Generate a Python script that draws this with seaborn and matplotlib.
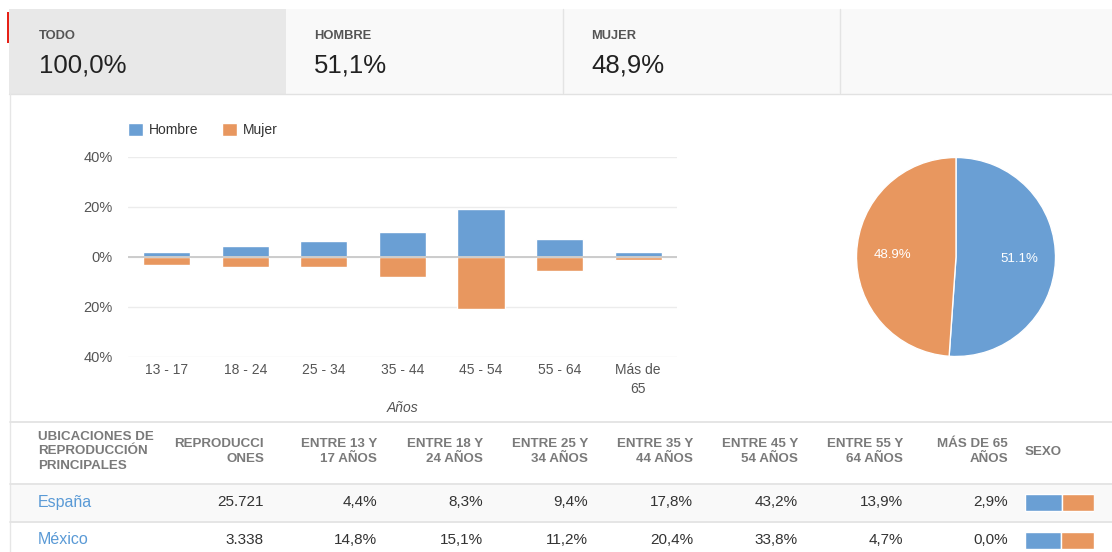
import matplotlib
matplotlib.use("Agg")
import matplotlib.pyplot as plt
import numpy as np
import pandas as pd
import seaborn as sns
from matplotlib.patches import Rectangle
from matplotlib.ticker import FuncFormatter

# ---------------- data ----------------
age_groups = ["13 - 17", "18 - 24", "25 - 34", "35 - 44", "45 - 54", "55 - 64", "Más de\n65"]
hombre_pct = [2.0, 4.5, 6.3, 10.1, 19.1, 7.3, 2.0]
mujer_pct = [3.2, 3.9, 3.9, 8.0, 20.9, 5.7, 1.2]
sex_labels = ["Hombre", "Mujer"]
sex_share = [51.1, 48.9]
y_ticks = [-40, -20, 0, 20, 40]

tab_labels = ["TODO", "HOMBRE", "MUJER"]
tab_values = ["100,0%", "51,1%", "48,9%"]

table_first_header = "UBICACIONES DE\nREPRODUCCIÓN\nPRINCIPALES"
table_headers = ["REPRODUCCI\nONES", "ENTRE 13 Y\n17 AÑOS", "ENTRE 18 Y\n24 AÑOS",
                 "ENTRE 25 Y\n34 AÑOS", "ENTRE 35 Y\n44 AÑOS", "ENTRE 45 Y\n54 AÑOS",
                 "ENTRE 55 Y\n64 AÑOS", "MÁS DE 65\nAÑOS"]
sex_header = "SEXO"
countries = ["España", "México"]
reproducciones = ["25.721", "3.338"]
espana_ages = ["4,4%", "8,3%", "9,4%", "17,8%", "43,2%", "13,9%", "2,9%"]
mexico_ages = ["14,8%", "15,1%", "11,2%", "20,4%", "33,8%", "4,7%", "0,0%"]
country_male_share = [53.0, 51.5]

# ---------------- style ----------------
sns.set_style("white")
plt.rcParams["font.family"] = ["Liberation Sans", "DejaVu Sans"]

BLUE = "#6a9fd4"
ORANGE = "#e8975f"
W, H = 1112, 552

fig = plt.figure(figsize=(W / 100, H / 100), dpi=100)
fig.patch.set_facecolor("white")


def px_axes(x0, y0, x1, y1, z=2):
    a = fig.add_axes([x0 / W, 1 - y1 / H, (x1 - x0) / W, (y1 - y0) / H])
    a.set_zorder(z)
    return a


# background / layout axes in pixel coordinates
bg = fig.add_axes([0, 0, 1, 1])
bg.set_xlim(0, W)
bg.set_ylim(H, 0)
bg.axis("off")
bg.set_zorder(0)

# tabs
bg.add_patch(Rectangle((286, 9), W - 286, 84.5, facecolor="#f9f9f9", edgecolor="none"))
bg.add_patch(Rectangle((9, 9), 277, 84.5, facecolor="#e8e8e8", edgecolor="none"))
bg.add_patch(Rectangle((7, 12), 2, 31, facecolor="#e62117", edgecolor="none"))
for xs in [563, 840]:
    bg.plot([xs, xs], [9, 93], color="#e4e4e4", lw=1)
bg.plot([9, W], [93.5, 93.5], color="#e2e2e2", lw=1)
bg.plot([9.5, 9.5], [93, H], color="#e6e6e6", lw=1)
tab_x = [39, 314, 591]
for tx, lab, val in zip(tab_x, tab_labels, tab_values):
    bg.text(tx, 36, lab, fontsize=9.3, fontweight="bold", color="#555555", va="center", ha="left")
    bg.text(tx, 65, val, fontsize=18.5, color="#222222", va="center", ha="left")

# table
bg.add_patch(Rectangle((10, 483.5), W - 10, 38, facecolor="#f9f9f9", edgecolor="none"))
for ys in [421.5, 483.5, 521.5]:
    bg.plot([10, W], [ys, ys], color="#e3e3e3", lw=1.3)
hdr_kw = dict(fontsize=9.6, fontweight="bold", color="#7a7a7a", va="center", linespacing=1.25)
bg.text(38, 451.5, table_first_header, ha="left", **hdr_kw)
col_right = [264, 377, 483, 588, 693, 798, 903, 1008]
for xr, h in zip(col_right, table_headers):
    bg.text(xr, 451.5, h, ha="right", multialignment="right", **hdr_kw)
bg.text(1025, 452, sex_header, ha="left", **hdr_kw)

rows = [[reproducciones[0]] + espana_ages, [reproducciones[1]] + mexico_ages]
row_y = [502, 540]
for ry, name, vals in zip(row_y, countries, rows):
    bg.text(38, ry, name, fontsize=11.5, color="#5a9ad6", va="center", ha="left")
    for xr, v in zip(col_right, vals):
        bg.text(xr, ry, v, fontsize=11, color="#333333", va="center", ha="right")

# sex share bars in the table
axs = px_axes(1025, 483.5, 1094, 559.5, z=3)
rows_idx = np.arange(len(countries))
male = np.array(country_male_share)
axs.barh(rows_idx, male, color=BLUE, height=17 / 38)
axs.barh(rows_idx, 100 - male, left=male, color=ORANGE, height=17 / 38)
axs.set_xlim(0, 100)
axs.set_ylim(1.5, -0.5)
axs.axis("off")

# ---------------- bar chart ----------------
df = pd.DataFrame({
    "Edad": age_groups * 2,
    "Porcentaje": hombre_pct + [-v for v in mujer_pct],
    "Sexo": [sex_labels[0]] * len(age_groups) + [sex_labels[1]] * len(age_groups),
})
ax = px_axes(127.5, 157, 677.5, 357, z=2)
ax.patch.set_alpha(0)
sns.barplot(data=df, x="Edad", y="Porcentaje", hue="Sexo", palette=[BLUE, ORANGE],
            dodge=False, width=0.6, saturation=1, errorbar=None, ax=ax, zorder=2)
ax.set_xlim(-0.5, len(age_groups) - 0.5)
ax.set_ylim(-40, 40)
ax.set_yticks(y_ticks)
ax.yaxis.set_major_formatter(FuncFormatter(lambda v, p: f"{abs(v):.0f}%"))
ax.grid(axis="y", color="#ececec", lw=1)
ax.grid(axis="x", visible=False)
ax.set_axisbelow(True)
ax.axhline(0, color="#cccccc", lw=1.4, zorder=4)
for s in ax.spines.values():
    s.set_visible(False)
ax.tick_params(axis="y", length=0, pad=10.5, labelsize=10.5, labelcolor="#555555")
ax.tick_params(axis="x", length=0, pad=4, labelsize=10, labelcolor="#555555")
for t in ax.get_xticklabels():
    t.set_linespacing(1.5)
    t.set_va("top")
ax.set_ylabel("")
ax.set_xlabel("Años", fontsize=10, style="italic", color="#555555", va="center")
ax.xaxis.set_label_coords(0.5, -0.255)

handles, labels = ax.get_legend_handles_labels()
ax.legend(handles, labels, loc="lower left", bbox_to_anchor=(0.0, 1.1), ncol=2,
          frameon=False, fontsize=10, handlelength=1.08, handleheight=1.08,
          handletextpad=0.45, columnspacing=1.7, borderpad=0, borderaxespad=0,
          labelcolor="#333333")

# ---------------- pie chart ----------------
axp = px_axes(855.5, 156.5, 1056.5, 357.5, z=2)
axp.pie(sex_share, colors=[BLUE, ORANGE], startangle=90, counterclock=False,
        autopct="%.1f%%", pctdistance=0.64,
        textprops=dict(color="white", fontsize=9.5),
        wedgeprops=dict(edgecolor="white", linewidth=1))
axp.set_xlim(-1.01, 1.01)
axp.set_ylim(-1.01, 1.01)

fig.savefig("out.png", dpi=100, facecolor="white")
